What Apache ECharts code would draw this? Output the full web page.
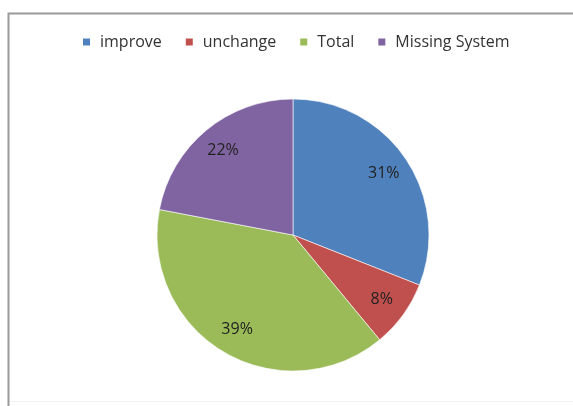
<!DOCTYPE html>
<html>
<head>
<meta charset="utf-8">
<script src="https://cdn.jsdelivr.net/npm/echarts@6/dist/echarts.min.js"></script>
<style>
  html, body { margin: 0; padding: 0; background: #ffffff; }
  #chart { width: 573px; height: 406px; }
</style>
</head>
<body>
<div id="chart"></div>
<script>
// Category names and their shares (percent)
const categories = ['improve', 'unchange', 'Total', 'Missing System'];
const shares = [31, 8, 39, 22];
const palette = ['#4F81BD', '#C0504D', '#9BBB59', '#8064A2'];

const pieData = categories.map((name, i) => ({ name: name, value: shares[i] }));

const chart = echarts.init(document.getElementById('chart'), null, { renderer: 'canvas' });

const center = [293, 235];
const radius = 136;

chart.setOption({
  animation: false,
  backgroundColor: '#ffffff',
  color: palette,
  graphic: [
    {
      type: 'polyline',
      silent: true,
      shape: { points: [[8.5, 420], [8.5, 13.5], [580, 13.5]] },
      style: { stroke: '#9a9a9a', lineWidth: 2, fill: null }
    },
    {
      type: 'line',
      silent: true,
      shape: { x1: 10, y1: 401.5, x2: 573, y2: 401.5 },
      style: { stroke: '#f2f2f2', lineWidth: 1 }
    }
  ],
  legend: {
    top: 29,
    left: 76,
    itemWidth: 9,
    itemHeight: 9,
    itemGap: 22,
    icon: 'rect',
    data: categories,
    textStyle: {
      fontFamily: 'Open Sans',
      fontSize: 16,
      color: '#333333',
      padding: [0, 0, 0, 4]
    }
  },
  series: [
    {
      type: 'pie',
      center: center,
      radius: [0, radius],
      startAngle: 90,
      clockwise: true,
      silent: true,
      label: { show: false },
      labelLine: { show: false },
      itemStyle: { borderColor: '#ffffff', borderWidth: 0.6 },
      data: pieData
    },
    {
      // invisible ring used only to place the percentage labels further out
      type: 'pie',
      center: center,
      radius: [0, radius * 1.57],
      startAngle: 90,
      clockwise: true,
      silent: true,
      itemStyle: { color: 'rgba(0,0,0,0)', borderWidth: 0 },
      label: {
        show: true,
        position: 'inside',
        formatter: p => p.value + '%',
        fontFamily: 'Open Sans',
        fontSize: 16,
        color: '#222222'
      },
      labelLine: { show: false },
      data: pieData
    }
  ]
});
</script>
</body>
</html>
